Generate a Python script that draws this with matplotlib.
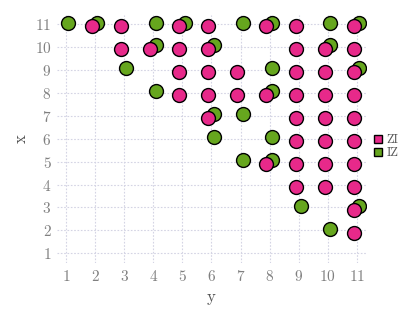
import matplotlib
matplotlib.use("Agg")
import matplotlib.pyplot as plt
from matplotlib.lines import Line2D

plt.rcParams['font.family'] = ['cmr10', 'DejaVu Serif']
plt.rcParams['axes.formatter.use_mathtext'] = True

# IZ (green) points: row value on "x" axis -> list of "y" values
iz_rows = {11: [1, 2, 4, 5, 7, 8, 10, 11], 10: [4, 6, 10], 9: [3, 8, 11], 8: [4, 8],
           7: [6, 7], 6: [6, 8], 5: [7, 8], 3: [9, 11], 2: [10]}
# ZI (pink) points
zi_rows = {11: [2, 3, 5, 6, 8, 9, 11], 10: [3, 4, 5, 6, 9, 10, 11], 9: [5, 6, 7, 9, 10, 11],
           8: [5, 6, 7, 8, 9, 10, 11], 7: [6, 9, 10, 11], 6: [9, 10, 11], 5: [8, 9, 10, 11],
           4: [9, 10, 11], 3: [11], 2: [11]}
ticks = list(range(1, 12))

pink = '#e7298a'
green = '#66a61e'

fig = plt.figure(figsize=(4.07, 3.26), dpi=100)
ax = fig.add_axes([0.14, 0.193, 0.759, 0.761])

def pts(rows):
    xs, ys = [], []
    for r, vals in rows.items():
        for v in vals:
            xs.append(v)
            ys.append(r)
    return xs, ys

gx, gy = pts(iz_rows)
px, py = pts(zi_rows)
ax.scatter([x + 0.08 for x in gx], [y + 0.07 for y in gy], s=100, c=green,
           edgecolors='black', linewidths=1.0, zorder=3)
ax.scatter([x - 0.11 for x in px], [y - 0.1 for y in py], s=100, c=pink,
           edgecolors='black', linewidths=1.0, zorder=4)

ax.set_xlim(0.69, 11.31)
ax.set_ylim(0.57, 11.4)
ax.set_xticks(ticks)
ax.set_yticks(ticks)
ax.grid(True, color='#d4d4e4', linestyle=(0, (1.5, 1.5)), linewidth=0.8)
ax.set_axisbelow(True)
for s in ax.spines.values():
    s.set_visible(False)
ax.tick_params(length=0, labelsize=11, labelcolor='#808080', pad=4)
ax.set_xlabel('y', fontsize=12, color='#555555', labelpad=4)
ax.set_ylabel('x', fontsize=12, color='#555555', labelpad=4)

handles = [Line2D([], [], marker='s', linestyle='none', markerfacecolor=pink,
                  markeredgecolor='black', markersize=6, markeredgewidth=1),
           Line2D([], [], marker='s', linestyle='none', markerfacecolor=green,
                  markeredgecolor='black', markersize=6, markeredgewidth=1)]
leg = fig.legend(handles, ['ZI', 'IZ'], loc='center left', bbox_to_anchor=(0.895, 0.55),
                 frameon=False, fontsize=9, handlelength=0.8, handletextpad=0.3,
                 labelspacing=0.1, borderpad=0.2)
for t in leg.get_texts():
    t.set_color('#555555')

fig.savefig('out.png', dpi=100)
